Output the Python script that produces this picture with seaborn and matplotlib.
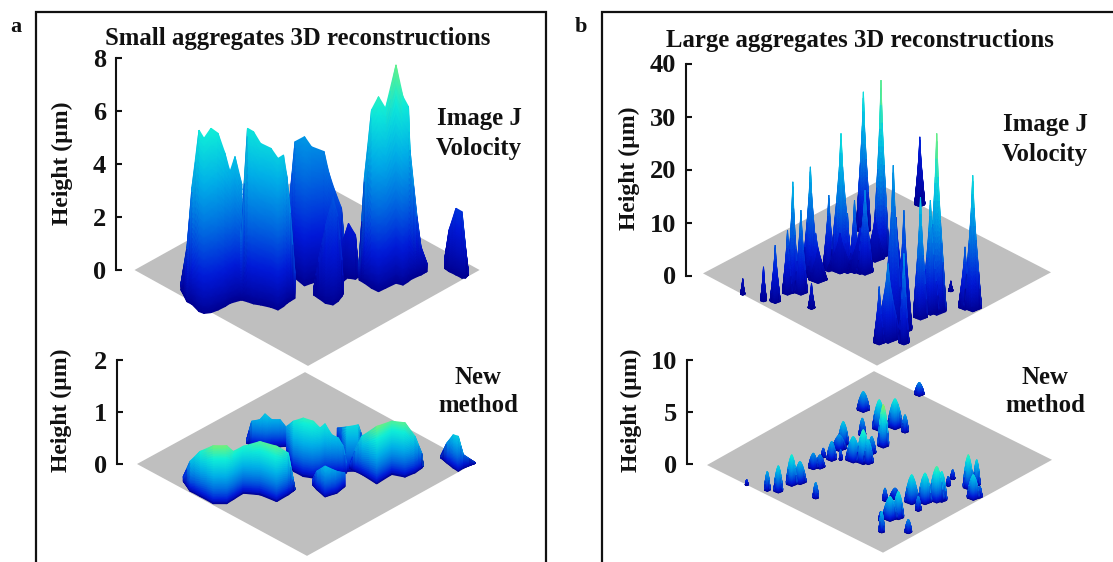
import matplotlib
matplotlib.use("Agg")
import matplotlib.pyplot as plt
from matplotlib.patches import Rectangle
import seaborn as sns
import numpy as np

W, H = 1113, 562

# small aggregates, Image J: x in px along the view, heights in um
a1_x = [181, 187, 192, 199, 204, 211, 218, 225, 230, 235, 242]
a1_top = [-0.5, 0.88, 3.14, 5.28, 4.97, 5.35, 5.16, 4.40, 3.71, 4.28, 3.21]
a1_base = [-0.75, -1.2, -1.3, -1.57, -1.64, -1.61, -1.51, -1.38, -1.26, -1.2, -1.13]
a2_x = [241, 247.5, 253.5, 260.5, 271, 278, 283.5, 287, 290.5, 295]
a2_top = [1.38, 5.35, 5.22, 4.78, 4.59, 4.21, 4.34, 3.52, 2.14, -0.13]
a2_base = [-1.13, -1.2, -1.28, -1.32, -1.41, -1.51, -1.38, -1.26, -1.17, -1.07]
a3_x = [289.5, 295, 304.5, 311.5, 324, 329, 334.5, 341.5, 347]
a3_top = [2.64, 4.84, 5.03, 4.65, 4.47, 3.65, 3.02, 2.33, -0.25]
a3_base = [-0.19, -0.31, -0.6, -0.5, -0.38, -0.38, -0.38, -0.5, -0.31]
a4_x = [313.5, 318.5, 325.5, 333, 338, 342, 343.5]
a4_top = [-0.75, 0.38, 1.64, 2.77, 2.01, 0.38, -0.75]
a4_base = [-0.94, -1.07, -1.26, -1.32, -1.19, -1.0, -0.88]
a5_x = [343, 348.5, 355.5, 359]
a5_top = [1.13, 1.76, 1.32, -0.25]
a5_base = [-0.19, -0.31, -0.35, -0.25]
a6_x = [359, 364.5, 371.5, 378.5, 385.5, 396, 403, 408.5, 410, 417, 421, 427]
a6_top = [0.25, 3.52, 6.04, 6.54, 6.1, 7.74, 6.54, 6.16, 4.53, 2.01, 0.88, 0.25]
a6_base = [-0.38, -0.5, -0.69, -0.82, -0.69, -0.5, -0.57, -0.44, -0.38, -0.25, -0.19, -0.06]
a7_x = [444.5, 449, 456, 462, 465.5, 468.5]
a7_top = [0.38, 1.51, 2.33, 2.2, 0.88, -0.13]
a7_base = [0.06, -0.06, -0.19, -0.31, -0.31, -0.19]

# small aggregates, new method
c1_x = [246.7, 251.7, 260, 265, 271.7, 280, 286.7]
c1_top = [0.47, 0.82, 0.85, 0.96, 0.85, 0.85, 0.69]
c1_base = [0.4, 0.35, 0.33, 0.31, 0.33, 0.33, 0.34]
c2_x = [337.3, 346.7, 358.3, 362.7]
c2_top = [0.69, 0.71, 0.75, 0.5]
c2_base = [0.47, -0.14, -0.14, 0.4]
c3_x = [286.7, 293.3, 303.3, 313.3, 320, 325, 331.7, 338.3, 343.3, 346.7]
c3_top = [0.72, 0.82, 0.88, 0.82, 0.69, 0.77, 0.56, 0.5, 0.34, 0.02]
c3_base = [0.18, -0.14, -0.24, -0.27, -0.24, -0.2, -0.2, -0.2, -0.2, -0.17]
c4_x = [350, 355, 361.7, 376.7, 391.7, 405, 415, 421.7, 423.3]
c4_top = [0.02, 0.27, 0.53, 0.72, 0.82, 0.79, 0.53, 0.21, -0.04]
c4_base = [-0.08, -0.14, -0.2, -0.38, -0.2, -0.25, -0.17, -0.08, -0.04]
c5_x = [183.3, 190, 200, 213.3, 226.7, 233.3, 243.3, 260, 276.7, 288.3, 293.3, 295]
c5_top = [-0.24, 0.05, 0.24, 0.35, 0.35, 0.24, 0.34, 0.43, 0.34, 0.21, -0.3, -0.49]
c5_base = [-0.33, -0.52, -0.62, -0.76, -0.76, -0.68, -0.56, -0.59, -0.72, -0.59, -0.52, -0.49]
c6_x = [312.7, 316.7, 325, 336.7, 345]
c6_top = [-0.3, -0.14, -0.04, -0.14, -0.17]
c6_base = [-0.4, -0.49, -0.63, -0.56, -0.43]
c7_x = [440.7, 446.7, 453.3, 458.3, 463.3, 475]
c7_top = [0.15, 0.4, 0.56, 0.53, 0.18, 0.03]
c7_base = [0.12, 0.02, -0.08, -0.14, -0.08, 0.01]

# large aggregates, Image J: one entry per spike
b_x = [919.8, 863.4, 881, 841, 828.8, 854.5, 865, 847.5, 810.4, 815.7, 792.8, 800.9, 787.5, 775.2,
       763.5, 742.7, 811.5, 950.8, 972.7, 965, 893.3, 903.9, 936.7, 930.4, 920.5, 888, 879.2, 903.9,
       840, 860, 875, 818, 896]
b_base = [12.96, 7.92, 3.2, 0.38, 0.69, 0.38, 0.06, 0.38, -0.57, -0.88, -3.4, -3.71, -3.71, -5.28,
          -4.97, -3.71, -6.4, -3.08, -6.86, -6.54, -11.6, -10.9, -7.5, -7.5, -8.4, -12.8, -13.1, -13.1,
          0.3, 0.2, 2.5, -1.5, -6]
b_top = [26.16, 34.65, 36.86, 26.8, 15.16, 14.2, 16.1, 11.7, 20.5, 7.92, 17.67, 12.33, 8.55, 5.72,
         1.64, -0.57, -1.5, -1.0, 18.9, 5.4, 20.8, 12.3, 26.8, 14.2, 14.8, 2.26, -2.1, 4.15,
         8, 9, 11, 5, 11]
b_half = [4.9, 7, 7.8, 10.6, 5.6, 5.3, 7.8, 4.2, 7.8, 9.9, 5.6, 6.3, 4.9, 4.9,
          2.8, 2.1, 3.2, 2.1, 8.5, 6.3, 9.9, 7.8, 9.2, 8.5, 7, 12.3, 5.3, 4.9,
          12, 12, 9, 9, 10]
b_tone = [0.55, 1, 1, 1, 1, 1, 1, 1, 1, 1, 1, 1, 1, 1,
          1, 1, 1, 1, 1, 1, 0.6, 0.6, 1, 1, 1, 1, 1, 1,
          0.7, 0.7, 0.7, 0.7, 0.6]

# large aggregates, new method
d_x = [919.3, 863.3, 895, 879.3, 905, 883.3, 862.3, 843.3, 839.3, 831.7, 853.3, 863.3, 871.7, 868.3,
       840.7, 823.3, 813.3, 820, 791.7, 800, 778.3, 767.3, 746.7, 815.7, 968.3, 976.7, 952.7, 973.3,
       980, 948.3, 936.7, 925, 941.7, 911.7, 918.3, 885, 895, 890, 898.3, 881.7, 908.3, 880.7]
d_base = [6.49, 4.95, 3.29, 3.13, 2.97, 1.53, 2.65, 1.69, 1.21, 0.26, 0.1, -0.06, 0.89, -0.06,
          0.35, 0.58, -0.54, -0.48, -2.14, -1.98, -2.78, -2.62, -2.08, -3.35, -2.46, -2.14, -1.5, -3.48,
          -3.26, -2.14, -3.74, -3.9, -3.67, -3.9, -4.54, -3.58, -3.42, -5.5, -5.34, -6.61, -6.68, -5.5]
d_top = [7.83, 6.96, 6.26, 6.17, 4.73, 5.69, 4.41, 4.09, 2.81, 2.17, 2.65, 3.29, 2.65, 2.33,
         1.37, 1.53, 1.05, 0.89, 0.89, 0.26, -0.16, -0.7, -1.5, -1.76, 0.89, 0.42, -0.54, -1.02,
         -2.14, -1.18, -0.22, -0.86, -0.7, -1.02, -3.1, -2.3, -2.3, -3.1, -2.62, -4.54, -5.3, -4.54]
d_half = [4.7, 6, 7.3, 6.7, 3.3, 5.3, 3.3, 5.3, 6.7, 4.7, 7.3, 6.7, 4, 4.7,
          1.3, 2, 4.7, 4.7, 5.3, 6, 4.3, 2.7, 1.3, 2.7, 5, 3.3, 2, 6,
          2, 2, 7.3, 6.7, 5, 6.7, 2.7, 2.3, 5, 7.3, 5.3, 2.7, 3.3, 2]

sns.set_theme(style="white", font="Liberation Serif")
plt.rcParams["font.weight"] = "bold"

height_cmap = sns.blend_palette(["#000090", "#0018d8", "#0068e0", "#00b0e8", "#10f0d8", "#a0f050"], as_cmap=True)
FLOOR = "#bfbfbf"
INK = "#111111"
SHARP = [0.03, 0.28, 0.52, 0.76, 1, 0.76, 0.52, 0.28, 0.03]
DOME = [0.1, 0.55, 0.82, 0.96, 1, 0.96, 0.82, 0.55, 0.1]


def make_axes(fig, x0, x1, y_zero, px_per_unit, ticks, px_top, px_bottom):
    ax = fig.add_axes([x0 / W, 1 - px_bottom / H, (x1 - x0) / W, (px_bottom - px_top) / H])
    ax.patch.set_alpha(0)
    ax.set_xlim(x0, x1)
    ax.set_ylim((y_zero - px_bottom) / px_per_unit, (y_zero - px_top) / px_per_unit)
    sns.despine(ax=ax, bottom=True)
    ax.spines["left"].set_bounds(ticks[0], ticks[-1])
    ax.spines["left"].set_color(INK)
    ax.spines["left"].set_linewidth(1.5)
    ax.set_xticks([])
    ax.set_yticks(ticks)
    ax.tick_params(axis="y", direction="in", length=4.5, width=1.5, color=INK, left=True, pad=7,
                   labelsize=19, labelcolor=INK)
    return ax


def draw_blob(ax, x, base, top, span, tone=1.0, gamma=0.85):
    x, base, top = np.array(x, float), np.array(base, float), np.array(top, float)
    frac = np.linspace(0, 1, 24)[:, None]
    Y = base + (top - base) * frac
    X = np.tile(x, (24, 1))
    C = tone * (np.clip(Y - base, 0, None) / span) ** gamma
    ax.pcolormesh(X, Y, C, shading="gouraud", cmap=height_cmap, vmin=0, vmax=1, rasterized=True)


def draw_spikes(ax, x, base, top, half, span, px_per_unit, profile, tone=None, gamma=0.85):
    offs = np.array([-1, -0.7, -0.4, -0.15, 0, 0.15, 0.4, 0.7, 1])
    prof = np.array(profile)
    # back to front, the higher the foot the further away
    for i in np.argsort(-np.array(base)):
        xs = x[i] + offs * half[i]
        bs = base[i] + np.abs(offs) * 0.4 * half[i] / px_per_unit
        ts = bs + (top[i] - bs) * prof
        draw_blob(ax, xs, bs, ts, span, 1.0 if tone is None else tone[i], gamma)


fig = plt.figure(figsize=(W / 100, H / 100), dpi=100)

# frames, open at the bottom of the image
for x0, x1 in [(36, 546), (602, 1125)]:
    fig.add_artist(Rectangle((x0 / W, -0.05), (x1 - x0) / W, 1.05 - 12 / H, transform=fig.transFigure,
                             fill=False, edgecolor="#111111", linewidth=1.6))

# a, Image J
ax = make_axes(fig, 116, 540, 270, 26.5, [0, 2, 4, 6, 8], 40, 370)
ax.fill([134.5, 306, 479.6, 308], [0, 3.6, 0, -3.62], color=FLOOR, lw=0)
for x, base, top, tone in [(a3_x, a3_base, a3_top, 0.8), (a1_x, a1_base, a1_top, 1.0), (a2_x, a2_base, a2_top, 1.0),
                           (a5_x, a5_base, a5_top, 0.7), (a4_x, a4_base, a4_top, 0.7), (a6_x, a6_base, a6_top, 1.0),
                           (a7_x, a7_base, a7_top, 0.8)]:
    draw_blob(ax, x, base, top, 9, tone)

# a, new method
ax = make_axes(fig, 117, 540, 464, 52.2, [0, 1, 2], 350, 560)
ax.fill([137, 305, 473, 307], [0, 1.76, 0, -1.76], color=FLOOR, lw=0)
for x, base, top, tone in [(c1_x, c1_base, c1_top, 1.0), (c2_x, c2_base, c2_top, 0.9), (c3_x, c3_base, c3_top, 0.9),
                           (c4_x, c4_base, c4_top, 1.0), (c5_x, c5_base, c5_top, 1.0), (c6_x, c6_base, c6_top, 1.0),
                           (c7_x, c7_base, c7_top, 1.0)]:
    draw_blob(ax, x, base, top, 1.25, tone, 0.6)

# b, Image J
ax = make_axes(fig, 686, 1100, 275.5, 5.3, [0, 10, 20, 30, 40], 40, 370)
ax.fill([703, 876, 1051, 877], [0.4, 17.6, 0.6, -17], color=FLOOR, lw=0)
draw_spikes(ax, b_x, b_base, b_top, b_half, 36, 5.3, SHARP, b_tone)

# b, new method
ax = make_axes(fig, 687, 1100, 464, 10.43, [0, 5, 10], 350, 560)
ax.fill([707, 874, 1052, 883], [-0.1, 8.9, 0.4, -8.5], color=FLOOR, lw=0)
draw_spikes(ax, d_x, d_base, d_top, d_half, 4.2, 10.43, DOME, gamma=0.65)


def label(x, y, s, size=17.8, **kw):
    fig.text(x / W, 1 - y / H, s, ha="center", va="center", fontsize=size, fontweight="bold", color=INK, **kw)


label(16, 27, "a", 16)
label(581, 27, "b", 16)
label(298, 38, "Small aggregates 3D reconstructions")
label(860, 40, "Large aggregates 3D reconstructions")
for x, y in [(62, 163), (61, 410), (629, 168), (631, 410)]:
    label(x, y, "Height (µm)", 17, rotation=90)
label(479, 119, "Image J")
label(479, 148, "Volocity")
label(1045, 125, "Image J")
label(1045, 154, "Volocity")
label(478, 377, "New")
label(478, 406, "method")
label(1045, 377, "New")
label(1045, 406, "method")

fig.savefig("out.png", dpi=100)
